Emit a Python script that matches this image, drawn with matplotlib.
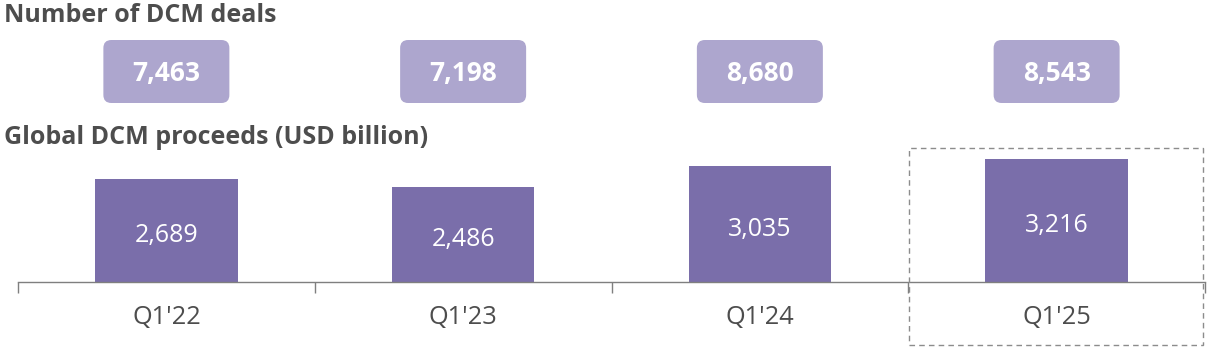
import matplotlib
matplotlib.use("Agg")
import matplotlib.pyplot as plt
from matplotlib.patches import FancyBboxPatch, Rectangle
from matplotlib.transforms import blended_transform_factory, offset_copy

categories = ["Q1'22", "Q1'23", "Q1'24", "Q1'25"]
proceeds = [2689, 2486, 3035, 3216]
deals = [7463, 7198, 8680, 8543]
title_deals = "Number of DCM deals"
title_proceeds = "Global DCM proceeds (USD billion)"

W, H = 1210, 352
DPI = 100
plt.rcParams['font.family'] = ['Open Sans', 'DejaVu Sans']

BAR_C = "#7A6EAA"
BOX_C = "#ADA6CE"
TXT_C = "#4D4D4D"
AX_C = "#7F7F7F"

fig = plt.figure(figsize=(W / DPI, H / DPI), dpi=DPI)

def fy(y):  # pixel from top -> figure fraction
    return 1 - y / H

def fx(x):
    return x / W

# main bar axes: baseline at y=282, top at y=150
ax_l, ax_r = 18, 1205
ax_top, ax_bot = 150, 282
ax = fig.add_axes([fx(ax_l), fy(ax_bot), fx(ax_r - ax_l), (ax_bot - ax_top) / H])
px_per_unit = 26.2
ax.set_ylim(0, (ax_bot - ax_top) * px_per_unit)
ax.set_xlim(-0.5, len(categories) - 0.5)
xs = list(range(len(categories)))
ax.bar(xs, proceeds, width=0.48, color=BAR_C, zorder=2)
for s in ["top", "right", "left"]:
    ax.spines[s].set_visible(False)
ax.spines["bottom"].set_color(AX_C)
ax.spines["bottom"].set_linewidth(1.0)
ax.set_yticks([])
ax.set_xticks([i - 0.5 for i in range(len(categories) + 1)])
ax.set_xticklabels([])
ax.tick_params(axis="x", length=8, width=1.0, color=AX_C, direction="out")
ax.patch.set_visible(False)

bt = blended_transform_factory(ax.transData, fig.transFigure)
lbl_tr = offset_copy(ax.transData, fig=fig, x=0, y=-5, units="dots")
for i, v in enumerate(proceeds):
    ax.text(i, v / 2, f"{v:,}", ha="center", va="center", color="white",
            fontsize=18, transform=lbl_tr, zorder=3)
for i, c in enumerate(categories):
    ax.text(i, fy(317), c, ha="center", va="center", color=TXT_C,
            fontsize=18.3, transform=bt, clip_on=False)

# deal boxes axes
b_top, b_bot = 40, 103
ax2 = fig.add_axes([fx(ax_l), fy(b_bot), fx(ax_r - ax_l), (b_bot - b_top) / H])
ax2.set_xlim(-0.5, len(categories) - 0.5)
ax2.set_ylim(0, 1)
ax2.axis("off")
unit_px_x = (ax_r - ax_l) / len(categories)
box_w = 126 / unit_px_x
r = 8 / unit_px_x
aspect = unit_px_x / (b_bot - b_top)
deal_tr = offset_copy(ax2.transData, fig=fig, x=0, y=-2, units="dots")
for i, d in enumerate(deals):
    p = FancyBboxPatch((i - box_w / 2, 0), box_w, 1,
                       boxstyle=f"round,pad=0,rounding_size={r}",
                       mutation_aspect=aspect, facecolor=BOX_C, edgecolor="none")
    ax2.add_patch(p)
    ax2.text(i, 0.5, f"{d:,}", ha="center", va="center", color="white",
             fontsize=19, fontweight="bold", transform=deal_tr)

# titles
fig.text(fx(4), fy(16), title_deals, ha="left", va="center", color=TXT_C,
         fontsize=18, fontweight="bold")
fig.text(fx(4), fy(138), title_proceeds, ha="left", va="center", color=TXT_C,
         fontsize=18, fontweight="bold")

# dashed highlight box around last category
fig.patches.append(Rectangle((fx(909), fy(345)), fx(1203 - 909), (345 - 148) / H,
                             transform=fig.transFigure, fill=False,
                             edgecolor="#8C8C8C", linewidth=1.0,
                             linestyle=(0, (4, 3))))

fig.savefig("out.png", dpi=DPI)
